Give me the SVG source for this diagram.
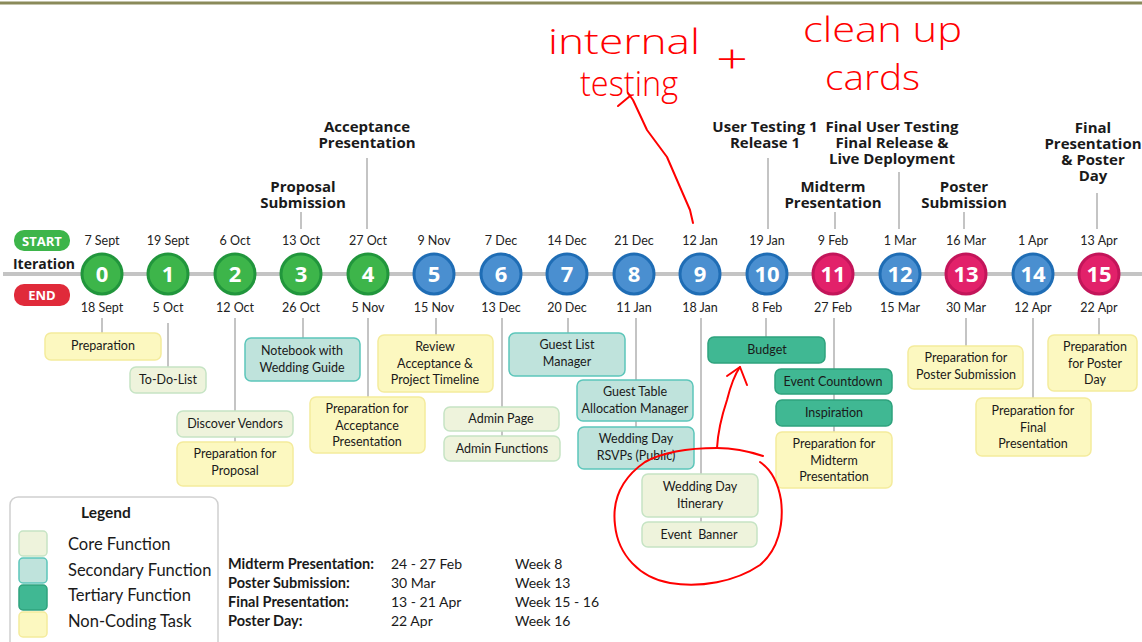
<svg xmlns="http://www.w3.org/2000/svg" width="1142" height="642" viewBox="0 0 1142 642">
<style>
.date{font-family:Lato,"Open Sans",sans-serif;font-size:12.5px;fill:#222;text-anchor:middle}
.ms{font-family:"Open Sans",Lato,sans-serif;font-size:15px;font-weight:bold;fill:#1a1a1a;text-anchor:middle}
.num{font-family:"Open Sans",Lato,sans-serif;font-size:22px;font-weight:bold;fill:#fff;text-anchor:middle}
.bt{font-family:Lato,"Open Sans",sans-serif;font-size:12.5px;fill:#1a1a1a;text-anchor:middle}
.core{fill:#eef3dc;stroke:#c6e4c4;stroke-width:1.5}
.sec{fill:#bfe3dc;stroke:#5cc6ba;stroke-width:1.5}
.ter{fill:#40b893;stroke:#2ea27d;stroke-width:1.5}
.non{fill:#fcf8c0;stroke:#f4eb9c;stroke-width:1.5}
.g circle{fill:#3db54a;stroke:#21963c;stroke-width:3}
.b circle{fill:#4a8fd0;stroke:#1f6db5;stroke-width:3}
.p circle{fill:#e2216a;stroke:#c3155a;stroke-width:3}
.conn line{stroke:#c4c4c4;stroke-width:2}
.leg{font-family:Lato,"Open Sans",sans-serif;font-size:16.5px;fill:#1a1a1a}
.tb{font-family:Lato,"Open Sans",sans-serif;font-size:14px;fill:#1a1a1a}
.tbb{font-family:Lato,"Open Sans",sans-serif;font-size:14.5px;font-weight:bold;fill:#1a1a1a}
.hand{font-family:"Open Sans",sans-serif;font-weight:300;fill:#ff0000}
.red{fill:none;stroke:#ff0000;stroke-width:2;stroke-linecap:round;stroke-linejoin:round}
</style>
<rect width="1142" height="642" fill="#fff"/>
<line x1="0" y1="3" x2="1142" y2="3" stroke="#8a8a5a" stroke-width="3"/>

<g id="connectors" class="conn">
<line x1="3" y1="274" x2="1142" y2="274" style="stroke-width:4"/>
<line x1="301" y1="212" x2="301" y2="229"/>
<line x1="367" y1="158" x2="367" y2="229"/>
<line x1="768" y1="158" x2="768" y2="229"/>
<line x1="899" y1="172" x2="899" y2="229"/>
<line x1="835" y1="212" x2="835" y2="229"/>
<line x1="964" y1="212" x2="964" y2="229"/>
<line x1="1097" y1="193" x2="1097" y2="229"/>
<line x1="102" y1="318" x2="102" y2="333"/>
<line x1="168" y1="323" x2="168" y2="367"/>
<line x1="235" y1="318" x2="235" y2="442"/>
<line x1="303" y1="318" x2="303" y2="338"/>
<line x1="368" y1="318" x2="368" y2="397"/>
<line x1="436" y1="318" x2="436" y2="335"/>
<line x1="502" y1="318" x2="502" y2="436"/>
<line x1="568" y1="318" x2="568" y2="333"/>
<line x1="636" y1="318" x2="636" y2="427"/>
<line x1="701" y1="318" x2="701" y2="522"/>
<line x1="766" y1="318" x2="766" y2="337"/>
<line x1="834" y1="318" x2="834" y2="432"/>
<line x1="966" y1="318" x2="966" y2="346"/>
<line x1="1033" y1="318" x2="1033" y2="398"/>
<line x1="1099" y1="318" x2="1099" y2="335"/>
</g>

<g id="start-end">
<rect x="14" y="230" width="56" height="21" rx="10" fill="#3db54a"/>
<text x="42" y="245.5" style="font-family:'Open Sans',sans-serif;font-size:13px;font-weight:bold;fill:#fff;text-anchor:middle">START</text>
<text x="44" y="269" style="font-family:'Open Sans',sans-serif;font-size:14px;font-weight:bold;fill:#1a1a1a;text-anchor:middle">Iteration</text>
<rect x="14" y="284" width="56" height="22" rx="10" fill="#e02a3a"/>
<text x="42" y="300" style="font-family:'Open Sans',sans-serif;font-size:13px;font-weight:bold;fill:#fff;text-anchor:middle">END</text>
</g>

<g id="milestones">
<text class="ms" x="303" y="192">Proposal<tspan x="303" dy="16">Submission</tspan></text>
<text class="ms" x="367" y="132">Acceptance<tspan x="367" dy="16">Presentation</tspan></text>
<text class="ms" x="765" y="132">User Testing 1<tspan x="765" dy="16">Release 1</tspan></text>
<text class="ms" x="892" y="132">Final User Testing<tspan x="892" dy="16">Final Release &amp;</tspan><tspan x="892" dy="16">Live Deployment</tspan></text>
<text class="ms" x="833" y="192">Midterm<tspan x="833" dy="16">Presentation</tspan></text>
<text class="ms" x="964" y="192">Poster<tspan x="964" dy="16">Submission</tspan></text>
<text class="ms" x="1093" y="133">Final<tspan x="1093" dy="16">Presentation</tspan><tspan x="1093" dy="16">&amp; Poster</tspan><tspan x="1093" dy="16">Day</tspan></text>
</g>

<g id="it0" class="g"><text class="date" x="102" y="245">7 Sept</text><circle cx="102" cy="274" r="20"/><text class="num" x="102" y="282">0</text><text class="date" x="102" y="312">18 Sept</text></g>
<g id="it1" class="g"><text class="date" x="168" y="245">19 Sept</text><circle cx="168" cy="274" r="20"/><text class="num" x="168" y="282">1</text><text class="date" x="168" y="312">5 Oct</text></g>
<g id="it2" class="g"><text class="date" x="235" y="245">6 Oct</text><circle cx="235" cy="274" r="20"/><text class="num" x="235" y="282">2</text><text class="date" x="235" y="312">12 Oct</text></g>
<g id="it3" class="g"><text class="date" x="301" y="245">13 Oct</text><circle cx="301" cy="274" r="20"/><text class="num" x="301" y="282">3</text><text class="date" x="301" y="312">26 Oct</text></g>
<g id="it4" class="g"><text class="date" x="368" y="245">27 Oct</text><circle cx="368" cy="274" r="20"/><text class="num" x="368" y="282">4</text><text class="date" x="368" y="312">5 Nov</text></g>
<g id="it5" class="b"><text class="date" x="434" y="245">9 Nov</text><circle cx="434" cy="274" r="20"/><text class="num" x="434" y="282">5</text><text class="date" x="434" y="312">15 Nov</text></g>
<g id="it6" class="b"><text class="date" x="501" y="245">7 Dec</text><circle cx="501" cy="274" r="20"/><text class="num" x="501" y="282">6</text><text class="date" x="501" y="312">13 Dec</text></g>
<g id="it7" class="b"><text class="date" x="567" y="245">14 Dec</text><circle cx="567" cy="274" r="20"/><text class="num" x="567" y="282">7</text><text class="date" x="567" y="312">20 Dec</text></g>
<g id="it8" class="b"><text class="date" x="634" y="245">21 Dec</text><circle cx="634" cy="274" r="20"/><text class="num" x="634" y="282">8</text><text class="date" x="634" y="312">11 Jan</text></g>
<g id="it9" class="b"><text class="date" x="700" y="245">12 Jan</text><circle cx="700" cy="274" r="20"/><text class="num" x="700" y="282">9</text><text class="date" x="700" y="312">18 Jan</text></g>
<g id="it10" class="b"><text class="date" x="767" y="245">19 Jan</text><circle cx="767" cy="274" r="20"/><text class="num" x="767" y="282">10</text><text class="date" x="767" y="312">8 Feb</text></g>
<g id="it11" class="p"><text class="date" x="833" y="245">9 Feb</text><circle cx="833" cy="274" r="20"/><text class="num" x="833" y="282">11</text><text class="date" x="833" y="312">27 Feb</text></g>
<g id="it12" class="b"><text class="date" x="900" y="245">1 Mar</text><circle cx="900" cy="274" r="20"/><text class="num" x="900" y="282">12</text><text class="date" x="900" y="312">15 Mar</text></g>
<g id="it13" class="p"><text class="date" x="966" y="245">16 Mar</text><circle cx="966" cy="274" r="20"/><text class="num" x="966" y="282">13</text><text class="date" x="966" y="312">30 Mar</text></g>
<g id="it14" class="b"><text class="date" x="1033" y="245">1 Apr</text><circle cx="1033" cy="274" r="20"/><text class="num" x="1033" y="282">14</text><text class="date" x="1033" y="312">12 Apr</text></g>
<g id="it15" class="p"><text class="date" x="1099" y="245">13 Apr</text><circle cx="1099" cy="274" r="20"/><text class="num" x="1099" y="282">15</text><text class="date" x="1099" y="312">22 Apr</text></g>

<g id="b-preparation"><rect class="non" x="45" y="333" width="116" height="27" rx="6"/><text class="bt" x="103" y="350">Preparation</text></g>
<g id="b-todo"><rect class="core" x="130" y="367" width="76" height="26" rx="6"/><text class="bt" x="168" y="384">To-Do-List</text></g>
<g id="b-notebook"><rect class="sec" x="245" y="338" width="115" height="43" rx="6"/><text class="bt" x="302" y="355">Notebook with<tspan x="302" dy="17">Wedding Guide</tspan></text></g>
<g id="b-vendors"><rect class="core" x="177" y="411" width="116" height="26" rx="6"/><text class="bt" x="235" y="428">Discover Vendors</text></g>
<g id="b-prepproposal"><rect class="non" x="177" y="442" width="116" height="44" rx="6"/><text class="bt" x="235" y="458">Preparation for<tspan x="235" dy="17">Proposal</tspan></text></g>
<g id="b-review"><rect class="non" x="378" y="335" width="115" height="57" rx="6"/><text class="bt" x="435" y="351">Review<tspan x="435" dy="17">Acceptance &amp;</tspan><tspan x="435" dy="16">Project Timeline</tspan></text></g>
<g id="b-prepaccept"><rect class="non" x="310" y="397" width="115" height="56" rx="6"/><text class="bt" x="367" y="413">Preparation for<tspan x="367" dy="17">Acceptance</tspan><tspan x="367" dy="16">Presentation</tspan></text></g>
<g id="b-adminpage"><rect class="core" x="444" y="407" width="115" height="24" rx="6"/><text class="bt" x="501" y="423">Admin Page</text></g>
<g id="b-adminfunc"><rect class="core" x="444" y="436" width="116" height="25" rx="6"/><text class="bt" x="502" y="453">Admin Functions</text></g>
<g id="b-guestlist"><rect class="sec" x="509" y="333" width="116" height="43" rx="6"/><text class="bt" x="567" y="349">Guest List<tspan x="567" dy="17">Manager</tspan></text></g>
<g id="b-guesttable"><rect class="sec" x="577" y="380" width="116" height="41" rx="6"/><text class="bt" x="635" y="396">Guest Table<tspan x="635" dy="17">Allocation Manager</tspan></text></g>
<g id="b-rsvp"><rect class="sec" x="578" y="427" width="116" height="42" rx="6"/><text class="bt" x="636" y="443">Wedding Day<tspan x="636" dy="17">RSVPs (Public)</tspan></text></g>
<g id="b-itinerary"><rect class="core" x="642" y="474" width="116" height="43" rx="6"/><text class="bt" x="700" y="491">Wedding Day<tspan x="700" dy="17">Itinerary</tspan></text></g>
<g id="b-banner"><rect class="core" x="642" y="522" width="115" height="25" rx="6"/><text class="bt" x="699" y="539" xml:space="preserve">Event  Banner</text></g>
<g id="b-budget"><rect class="ter" x="708" y="337" width="117" height="26" rx="6"/><text class="bt" x="767" y="354">Budget</text></g>
<g id="b-countdown"><rect class="ter" x="775" y="369" width="117" height="25" rx="6"/><text class="bt" x="833" y="386">Event Countdown</text></g>
<g id="b-inspiration"><rect class="ter" x="776" y="400" width="116" height="26" rx="6"/><text class="bt" x="834" y="417">Inspiration</text></g>
<g id="b-prepmidterm"><rect class="non" x="776" y="432" width="116" height="56" rx="6"/><text class="bt" x="834" y="448">Preparation for<tspan x="834" dy="17">Midterm</tspan><tspan x="834" dy="16">Presentation</tspan></text></g>
<g id="b-prepposter"><rect class="non" x="908" y="346" width="115" height="43" rx="6"/><text class="bt" x="966" y="362">Preparation for<tspan x="966" dy="17">Poster Submission</tspan></text></g>
<g id="b-prepfinal"><rect class="non" x="976" y="398" width="115" height="58" rx="6"/><text class="bt" x="1033" y="415">Preparation for<tspan x="1033" dy="17">Final</tspan><tspan x="1033" dy="16">Presentation</tspan></text></g>
<g id="b-prepposterday"><rect class="non" x="1048" y="335" width="89" height="56" rx="6"/><text class="bt" x="1095" y="351">Preparation<tspan x="1095" dy="17">for Poster</tspan><tspan x="1095" dy="16">Day</tspan></text></g>

<g id="legend">
<rect x="10" y="497" width="208" height="160" rx="8" fill="#fff" stroke="#d0d0d0" stroke-width="1.5"/>
<text x="106" y="518" style="font-family:Lato,'Open Sans',sans-serif;font-size:15.5px;font-weight:bold;fill:#1a1a1a;text-anchor:middle">Legend</text>
<rect class="core" x="19" y="531" width="28" height="25" rx="4"/><text class="leg" x="68" y="550">Core Function</text>
<rect class="sec" x="19" y="558" width="28" height="25" rx="4"/><text class="leg" x="68" y="576">Secondary Function</text>
<rect class="ter" x="19" y="585" width="28" height="25" rx="4"/><text class="leg" x="68" y="601">Tertiary Function</text>
<rect class="non" x="19" y="612" width="28" height="25" rx="4"/><text class="leg" x="68" y="627">Non-Coding Task</text>
</g>

<g id="dates-table">
<text class="tbb" x="228" y="569">Midterm Presentation:</text><text class="tb" x="391" y="569">24 - 27 Feb</text><text class="tb" x="515" y="569">Week 8</text>
<text class="tbb" x="228" y="588">Poster Submission:</text><text class="tb" x="391" y="588">30 Mar</text><text class="tb" x="515" y="588">Week 13</text>
<text class="tbb" x="228" y="607">Final Presentation:</text><text class="tb" x="391" y="607">13 - 21 Apr</text><text class="tb" x="515" y="607">Week 15 - 16</text>
<text class="tbb" x="228" y="626">Poster Day:</text><text class="tb" x="391" y="626">22 Apr</text><text class="tb" x="515" y="626">Week 16</text>
</g>

<g id="annotations">
<text class="hand" x="548" y="54" font-size="34" textLength="152" lengthAdjust="spacingAndGlyphs">internal</text>
<text class="hand" x="580" y="96" font-size="34" textLength="98" lengthAdjust="spacingAndGlyphs">testing</text>
<text class="hand" x="716" y="73" font-size="40" textLength="32" lengthAdjust="spacingAndGlyphs">+</text>
<text class="hand" x="803" y="42" font-size="34" textLength="159" lengthAdjust="spacingAndGlyphs">clean up</text>
<text class="hand" x="825" y="90" font-size="34" textLength="95" lengthAdjust="spacingAndGlyphs">cards</text>
<path class="red" d="M693,223 L690,210 L680,187 L667,157 L647,130 L633,100 L628,93"/>
<path class="red" d="M618,106 L630,96"/>
<path class="red" d="M763,456 C745,450 730,448 717,448 C695,448 667,450 645,462 C622,478 612,500 615,525 C618,555 640,578 670,583 C700,588 735,582 760,565 C778,550 784,525 781,500 C778,482 772,470 760,462"/>
<path class="red" d="M717,448 C718,430 722,415 727,400 C730,388 733,377 740,367"/>
<path class="red" d="M727,376 L740,367 L747,385"/>
</g>
</svg>
